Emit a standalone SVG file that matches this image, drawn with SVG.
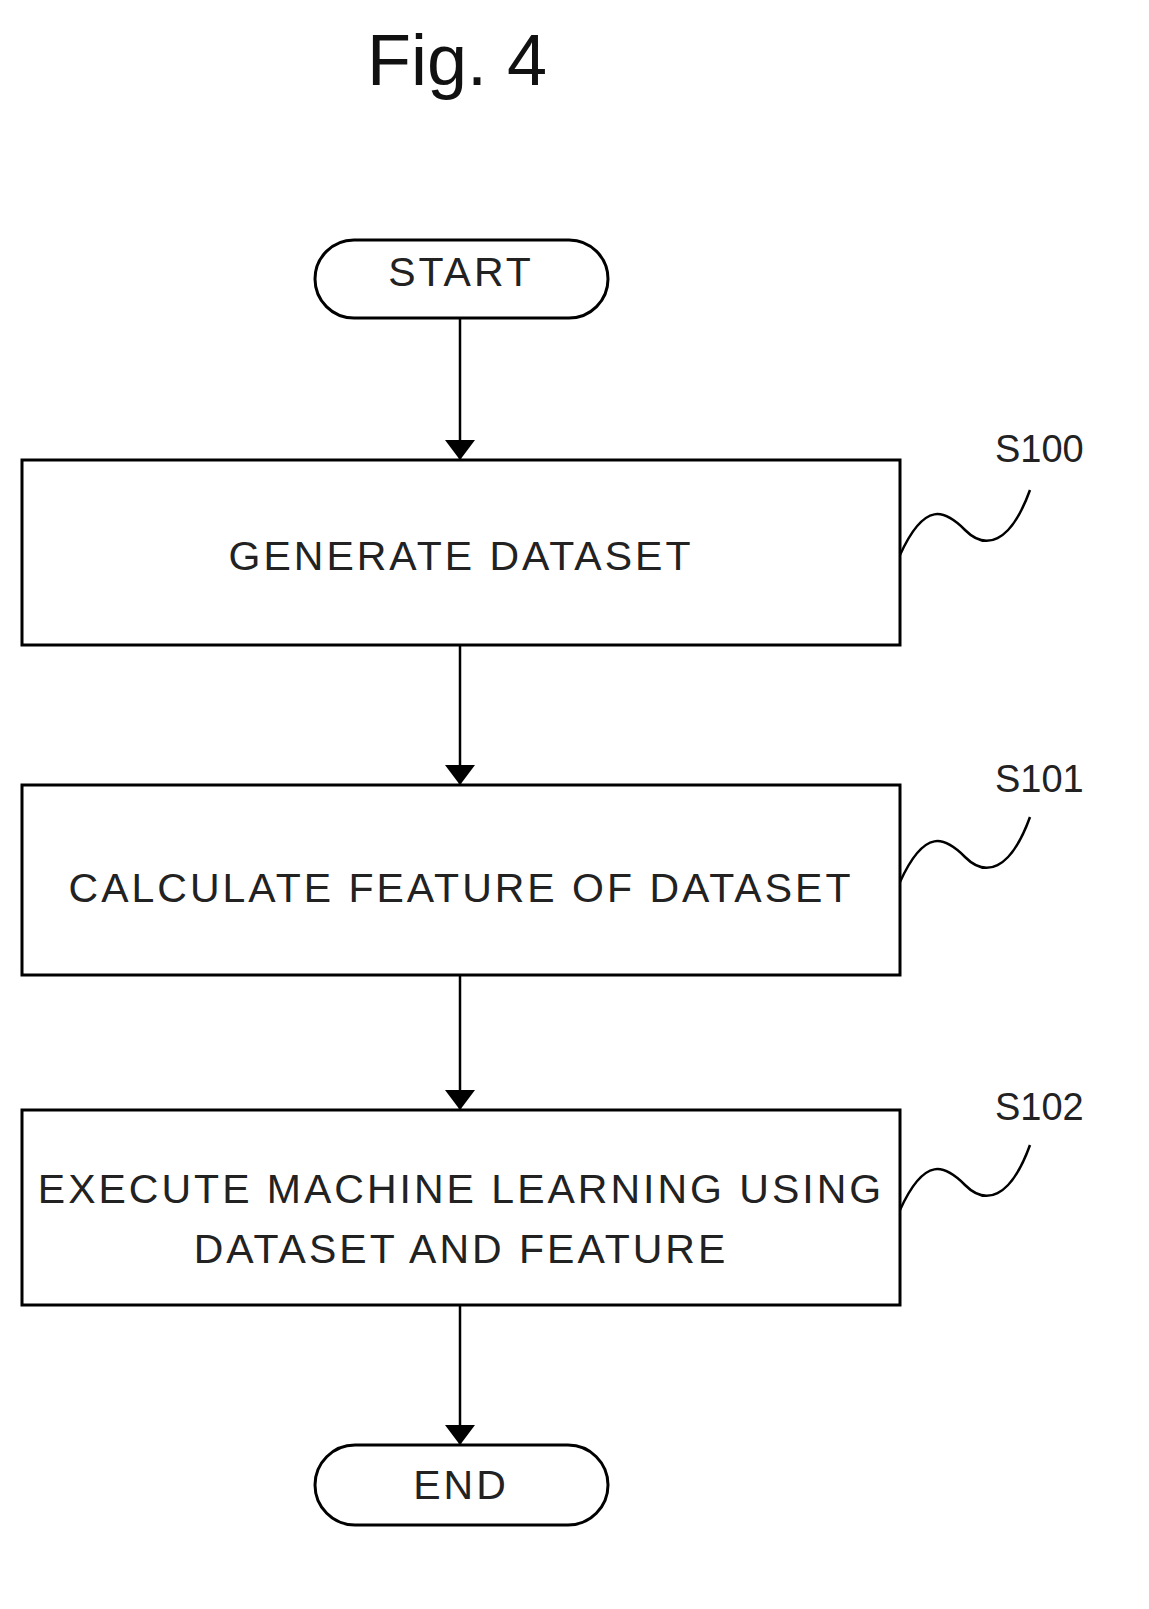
<svg xmlns="http://www.w3.org/2000/svg" width="1149" height="1609" viewBox="0 0 1149 1609">
<style>
.b{fill:#fff;stroke:#000;stroke-width:3}
.t{font-family:"Liberation Sans",Arial,sans-serif;font-size:41px;text-anchor:middle;fill:#222;letter-spacing:3px}
.l{font-family:"Liberation Sans",Arial,sans-serif;font-size:38px;fill:#222}
.c{stroke:#000;stroke-width:2.5;fill:none}
</style>
<defs>
<marker id="ah" viewBox="0 0 20 30" refX="20" refY="15" markerWidth="20" markerHeight="30" orient="auto" markerUnits="userSpaceOnUse"><path d="M0,0L20,15L0,30z" fill="#000"/></marker></defs>
<text x="457" y="85" font-family="Liberation Sans,Arial,sans-serif" font-size="72" text-anchor="middle" fill="#111">Fig. 4</text>
<g id="connectors">
<line class="c" x1="460" y1="318" x2="460" y2="460" marker-end="url(#ah)"/>
<line class="c" x1="460" y1="645" x2="460" y2="785" marker-end="url(#ah)"/>
<line class="c" x1="460" y1="975" x2="460" y2="1110" marker-end="url(#ah)"/>
<line class="c" x1="460" y1="1305" x2="460" y2="1445" marker-end="url(#ah)"/>
</g>
<g id="start"><rect class="b" x="315" y="240" width="293" height="78" rx="39"/><text class="t" x="461" y="286">START</text></g>
<g id="s100"><rect class="b" x="22" y="460" width="878" height="185"/><text class="t" x="461" y="570">GENERATE DATASET</text>
<path class="c" d="M900,555 C925,500 945,510 965,530 C985,550 1010,545 1030,490"/><text class="l" x="995" y="462">S100</text></g>
<g id="s101"><rect class="b" x="22" y="785" width="878" height="190"/><text class="t" x="461" y="902">CALCULATE FEATURE OF DATASET</text>
<path class="c" d="M900,882 C925,827 945,837 965,857 C985,877 1010,872 1030,817"/><text class="l" x="995" y="792">S101</text></g>
<g id="s102"><rect class="b" x="22" y="1110" width="878" height="195"/><text class="t" x="461" y="1203">EXECUTE MACHINE LEARNING USING</text><text class="t" x="461" y="1263">DATASET AND FEATURE</text>
<path class="c" d="M900,1210 C925,1155 945,1165 965,1185 C985,1205 1010,1200 1030,1145"/><text class="l" x="995" y="1120">S102</text></g>
<g id="end"><rect class="b" x="315" y="1445" width="293" height="80" rx="40"/><text class="t" x="461" y="1499">END</text></g>
</svg>
